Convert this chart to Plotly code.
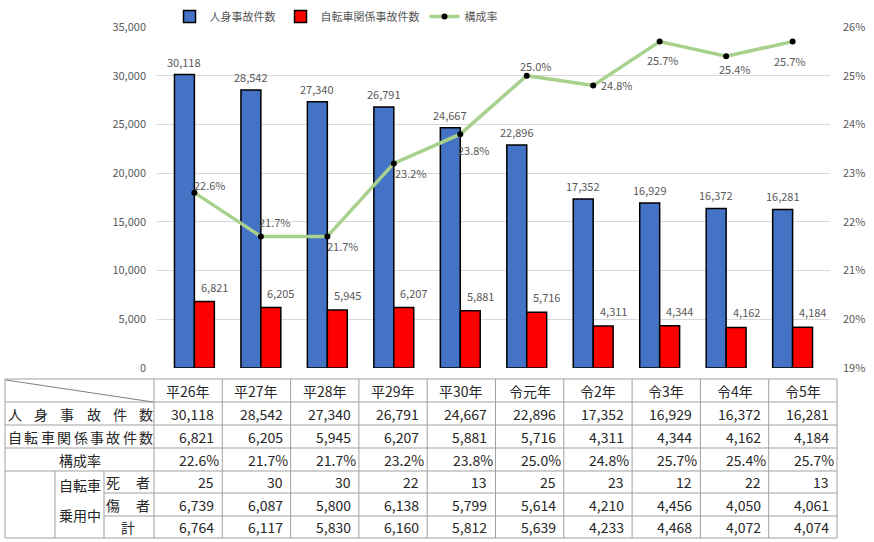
import plotly.graph_objects as go

W, H = 874, 542

years = ["平26年", "平27年", "平28年", "平29年", "平30年", "令元年", "令2年", "令3年", "令4年", "令5年"]
jinshin = [30118, 28542, 27340, 26791, 24667, 22896, 17352, 16929, 16372, 16281]
jitensha = [6821, 6205, 5945, 6207, 5881, 5716, 4311, 4344, 4162, 4184]
rate = [22.6, 21.7, 21.7, 23.2, 23.8, 25.0, 24.8, 25.7, 25.4, 25.7]
shisha = [25, 30, 30, 22, 13, 25, 23, 12, 22, 13]
shousha = [6739, 6087, 5800, 6138, 5799, 5614, 4210, 4456, 4050, 4061]
kei = [6764, 6117, 5830, 6160, 5812, 5639, 4233, 4468, 4072, 4074]

# label offsets (px) for the rate labels
rate_shift = [(16, 8), (14, 14), (16, -10), (17, -10), (14, -16),
              (9, 10), (24, 0), (3, -18), (9, -13), (-3, -19)]

GRAY = "#595959"
FONT = "Noto Sans CJK JP"


def px(x):
    return x / W


def py(y):
    return 1 - y / H


fig = go.Figure()
fig.add_trace(go.Bar(
    x=years, y=jinshin, name="人身事故件数",
    marker=dict(color="#4472C4", line=dict(color="black", width=1.5)),
))
fig.add_trace(go.Bar(
    x=years, y=jitensha, name="自転車関係事故件数",
    marker=dict(color="#FF0000", line=dict(color="black", width=1.5)),
))
fig.add_trace(go.Scatter(
    x=years, y=[r / 100 for r in rate], name="構成率", yaxis="y2",
    mode="lines+markers",
    line=dict(color="#A9D18E", width=3.5),
    marker=dict(color="black", size=6),
))

ann = []
# bar labels
for yr, v in zip(years, jinshin):
    ann.append(dict(x=yr, y=v, xref="x", yref="y", text=f"{v:,}", showarrow=False,
                    xshift=-10, yshift=3, yanchor="bottom",
                    font=dict(size=11, color=GRAY)))
for yr, v in zip(years, jitensha):
    ann.append(dict(x=yr, y=v, xref="x", yref="y", text=f"{v:,}", showarrow=False,
                    xshift=20, yshift=5, yanchor="bottom",
                    font=dict(size=11, color=GRAY)))
for yr, r, (dx, dy) in zip(years, rate, rate_shift):
    ann.append(dict(x=yr, y=r / 100, xref="x", yref="y2", text=f"{r:.1f}%", showarrow=False,
                    xshift=dx, yshift=dy, font=dict(size=11, color=GRAY)))

# ---- table below the chart ----
rows = [379, 402, 425, 448, 471, 493, 516, 538]
col0 = 154
cw = (837 - 154) / 10
cols = [col0 + i * cw for i in range(11)]
LC = "#A0A0A0"
shapes = []


def hline(y, x0, x1):
    shapes.append(dict(type="line", xref="paper", yref="paper", x0=px(x0), x1=px(x1),
                       y0=py(y), y1=py(y), line=dict(color=LC, width=1)))


def vline(x, y0, y1):
    shapes.append(dict(type="line", xref="paper", yref="paper", x0=px(x), x1=px(x),
                       y0=py(y0), y1=py(y1), line=dict(color=LC, width=1)))


for i, y in enumerate(rows):
    hline(y, 104 if i in (5, 6) else 5, 837)
vline(5, rows[0], rows[-1])
for x in cols:
    vline(x, rows[0], rows[-1])
vline(55, rows[4], rows[-1])
vline(104, rows[4], rows[-1])
shapes.append(dict(type="line", xref="paper", yref="paper", x0=px(6), y0=py(380),
                   x1=px(153), y1=py(402), line=dict(color="#808080", width=1)))


def cell_text(x, y, text, anchor="center", size=14):
    ann.append(dict(x=px(x), y=py(y), xref="paper", yref="paper", text=text, showarrow=False,
                    xanchor=anchor, yanchor="middle", font=dict(size=size, color="#262626")))


def mid(i):
    return (rows[i] + rows[i + 1]) / 2


for j, yr in enumerate(years):
    cell_text((cols[j] + cols[j + 1]) / 2, mid(0), yr)

for k, ch in enumerate("人身事故件数"):
    cell_text(15 + k * 26.2, mid(1), ch)
for k, ch in enumerate("自転車関係事故件数"):
    cell_text(15 + k * 16.4, mid(2), ch)
cell_text(80, mid(3), "構成率")
cell_text(80, 485, "自転車")
cell_text(80, 515, "乗用中")
cell_text(113, mid(4), "死")
cell_text(143, mid(4), "者")
cell_text(113, mid(5), "傷")
cell_text(143, mid(5), "者")
cell_text(128, mid(6), "計")

table_rows = [
    (1, [f"{v:,}" for v in jinshin], 6),
    (2, [f"{v:,}" for v in jitensha], 6),
    (3, [f"{r:.1f}%" for r in rate], 1),
    (4, [f"{v:,}" for v in shisha], 6),
    (5, [f"{v:,}" for v in shousha], 6),
    (6, [f"{v:,}" for v in kei], 6),
]
for ri, vals, pad in table_rows:
    for j, t in enumerate(vals):
        cell_text(cols[j + 1] - pad, mid(ri), t, anchor="right")

fig.update_layout(
    width=W, height=H, autosize=False,
    margin=dict(l=0, r=0, t=0, b=0, autoexpand=False),
    paper_bgcolor="white", plot_bgcolor="white",
    font=dict(family=FONT, size=11, color=GRAY),
    barmode="group", bargap=0.4, bargroupgap=0,
    xaxis=dict(domain=[px(157), px(830)], showticklabels=False, showgrid=False,
               showline=False, ticks=""),
    yaxis=dict(domain=[py(368), py(27)], range=[0, 35000], dtick=5000, tickformat=",",
               showgrid=True, gridcolor="#D9D9D9", gridwidth=1, zeroline=False,
               ticklabelstandoff=10, tickfont=dict(size=11, color=GRAY)),
    yaxis2=dict(overlaying="y", side="right", range=[0.19, 0.26], dtick=0.01,
                tickformat=".0%", showgrid=False, zeroline=False,
                ticklabelstandoff=12, tickfont=dict(size=11, color=GRAY)),
    legend=dict(orientation="h", x=px(336), xanchor="center", y=py(2), yanchor="top",
                font=dict(size=11, color=GRAY), bgcolor="rgba(0,0,0,0)"),
    annotations=ann, shapes=shapes,
)

fig.write_html("out.html", config={"displayModeBar": False},
               post_script="document.body.style.margin='0';")
